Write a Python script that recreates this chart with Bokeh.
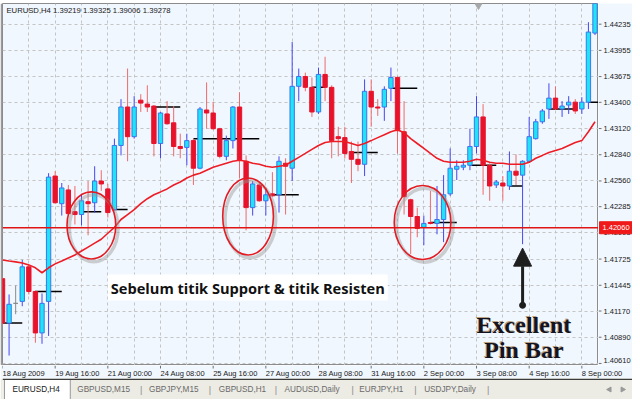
from bokeh.plotting import figure
from bokeh.models import Range1d, FixedTicker, Label, Span, Arrow, NormalHead
from bokeh.layouts import column, row
from bokeh.embed import file_html
from bokeh.resources import INLINE
from bokeh.core.properties import value

# ---------------- data ----------------
opens = [1.41516, 1.41041, 1.41252, 1.41273, 1.41642, 1.41379, 1.40936, 1.41273, 1.42612, 1.42317,
         1.42464, 1.42232, 1.42201, 1.42338, 1.42327, 1.42559, 1.42475, 1.42254, 1.42939, 1.43350,
         1.43033, 1.43423, 1.43381, 1.43360, 1.42960, 1.43276, 1.43181, 1.42928, 1.42918, 1.42991,
         1.42696, 1.43318, 1.43286, 1.43118, 1.42823, 1.42991, 1.43350, 1.42770, 1.42275, 1.42517,
         1.42348, 1.42422, 1.42412, 1.42749, 1.42696, 1.43571, 1.43676, 1.43560, 1.43297, 1.43698,
         1.43560, 1.43033, 1.43023, 1.42875, 1.42791, 1.42738, 1.43518, 1.43350, 1.43350, 1.43550,
         1.43666, 1.43086, 1.42359, 1.42180, 1.42064, 1.42116, 1.42106, 1.42148, 1.42422, 1.42685,
         1.42707, 1.42728, 1.42928, 1.43244, 1.42728, 1.42517, 1.42538, 1.42506, 1.42664, 1.42622,
         1.42770, 1.43012, 1.43192, 1.43329, 1.43445, 1.43329, 1.43371, 1.43402, 1.43329, 1.43402,
         1.44140]
highs = [1.41537, 1.41347, 1.41442, 1.41716, 1.41663, 1.41389, 1.41358, 1.42643, 1.42664, 1.42538,
         1.42517, 1.42506, 1.42422, 1.42559, 1.42717, 1.42675, 1.42528, 1.43012, 1.43434, 1.43761,
         1.43466, 1.43487, 1.43582, 1.43371, 1.43297, 1.43413, 1.43360, 1.43065, 1.43065, 1.43012,
         1.43350, 1.43613, 1.43402, 1.43128, 1.43044, 1.43360, 1.43508, 1.42833, 1.42559, 1.42538,
         1.42485, 1.42654, 1.42823, 1.42802, 1.44045, 1.43761, 1.43718, 1.43666, 1.43771, 1.43887,
         1.43582, 1.43139, 1.43139, 1.42981, 1.42981, 1.43645, 1.43645, 1.43434, 1.43571, 1.43771,
         1.43676, 1.43413, 1.42370, 1.42275, 1.42190, 1.42454, 1.42506, 1.42622, 1.42907, 1.42781,
         1.42781, 1.43118, 1.43466, 1.43381, 1.42749, 1.42570, 1.42612, 1.42875, 1.42844, 1.42781,
         1.43244, 1.43223, 1.43329, 1.43603, 1.43571, 1.43413, 1.43466, 1.43434, 1.43455, 1.44256,
         1.44593]
lows = [1.41010, 1.40694, 1.41136, 1.41221, 1.41347, 1.40831, 1.40820, 1.40904, 1.42317, 1.42190,
        1.42201, 1.42095, 1.42085, 1.41979, 1.42222, 1.42454, 1.42169, 1.42243, 1.42833, 1.42770,
        1.43012, 1.43297, 1.43297, 1.42823, 1.42802, 1.43160, 1.42823, 1.42802, 1.42728, 1.42517,
        1.42685, 1.43118, 1.43107, 1.42802, 1.42781, 1.42907, 1.42591, 1.42032, 1.42190, 1.42338,
        1.42190, 1.42391, 1.42222, 1.42201, 1.42559, 1.43413, 1.43518, 1.43244, 1.43276, 1.43413,
        1.42802, 1.42823, 1.42802, 1.42538, 1.42664, 1.42612, 1.43139, 1.43255, 1.43202, 1.43413,
        1.42854, 1.42201, 1.41779, 1.41958, 1.41874, 1.42095, 1.41990, 1.41906, 1.42401, 1.42570,
        1.42675, 1.42675, 1.42854, 1.42412, 1.42348, 1.42485, 1.42348, 1.42464, 1.42517, 1.41884,
        1.42759, 1.43002, 1.43171, 1.43223, 1.43318, 1.43244, 1.43276, 1.43276, 1.43276, 1.43329,
        1.44119]
closes = [1.41041, 1.41242, 1.41252, 1.41642, 1.41379, 1.40936, 1.41252, 1.42601, 1.42327, 1.42485,
          1.42211, 1.42201, 1.42348, 1.42317, 1.42559, 1.42528, 1.42222, 1.42939, 1.43350, 1.43033,
          1.43350, 1.43392, 1.43350, 1.42960, 1.43286, 1.43171, 1.42928, 1.42907, 1.42991, 1.42696,
          1.43329, 1.43286, 1.43118, 1.42823, 1.42991, 1.43350, 1.42781, 1.42275, 1.42528, 1.42348,
          1.42412, 1.42401, 1.42770, 1.42717, 1.43571, 1.43676, 1.43560, 1.43297, 1.43698, 1.43560,
          1.42991, 1.43012, 1.42854, 1.42791, 1.42738, 1.43518, 1.43350, 1.43339, 1.43539, 1.43666,
          1.43097, 1.42391, 1.42180, 1.42053, 1.42106, 1.42106, 1.42148, 1.42412, 1.42696, 1.42717,
          1.42728, 1.42928, 1.43244, 1.42728, 1.42506, 1.42549, 1.42506, 1.42664, 1.42622, 1.42770,
          1.43033, 1.43192, 1.43308, 1.43445, 1.43329, 1.43360, 1.43402, 1.43308, 1.43402, 1.44151,
          1.44541]
ma = [1.41716, 1.41705, 1.41695, 1.41684, 1.41663, 1.41632, 1.41579, 1.41632, 1.41674, 1.41705,
      1.41737, 1.41769, 1.41811, 1.41853, 1.41895, 1.41937, 1.42001, 1.42064, 1.42148, 1.42201,
      1.42254, 1.42317, 1.42370, 1.42412, 1.42443, 1.42475, 1.42517, 1.42549, 1.42591, 1.42622,
      1.42643, 1.42675, 1.42707, 1.42728, 1.42749, 1.42770, 1.42781, 1.42770, 1.42749, 1.42738,
      1.42717, 1.42707, 1.42717, 1.42728, 1.42770, 1.42812, 1.42854, 1.42897, 1.42939, 1.42970,
      1.42981, 1.42981, 1.42981, 1.42960, 1.42939, 1.42960, 1.42991, 1.43023, 1.43054, 1.43086,
      1.43107, 1.43076, 1.43012, 1.42960, 1.42907, 1.42854, 1.42802, 1.42770, 1.42759, 1.42759,
      1.42759, 1.42770, 1.42791, 1.42781, 1.42759, 1.42749, 1.42749, 1.42738, 1.42738, 1.42738,
      1.42759, 1.42802, 1.42833, 1.42865, 1.42886, 1.42907, 1.42939, 1.42970, 1.42991, 1.43086,
      1.43192]

# short black level lines (bar index start/end, price)
lvl_start = [0, 5, 12, 17, 23, 29, 41, 47, 53, 59, 65, 71, 77, 83, 89]
lvl_end = [3, 9, 15, 19, 27, 39, 45, 49, 57, 63, 69, 75, 79, 87, 90.5]
lvl_price = [1.41041, 1.41379, 1.42232, 1.42254, 1.43350, 1.43012, 1.42412, 1.43560, 1.42865,
             1.43550, 1.42116, 1.42728, 1.42506, 1.43329, 1.43402]

support_price = 1.42060
pin_bar_index = 79

x_ticks = [0, 8, 16, 24, 32, 40, 48, 56, 64, 72, 80, 88]
x_tick_labels = ["18 Aug 2009", "19 Aug 16:00", "21 Aug 00:00", "24 Aug 08:00", "25 Aug 16:00",
                 "27 Aug 00:00", "28 Aug 08:00", "31 Aug 16:00", "2 Sep 00:00", "3 Sep 08:00",
                 "4 Sep 16:00", "8 Sep 00:00"]
x_grid = list(range(0, 90, 4))
y_ticks = [1.44235, 1.43955, 1.43675, 1.43400, 1.43120, 1.42840, 1.42560, 1.42285, 1.42005,
           1.41725, 1.41445, 1.41170, 1.40890, 1.40610]

# circled zones (center bar, center price, width in bars, height in price)
ell_x = [13.5, 37.3, 63.8]
ell_y = [1.42085, 1.42180, 1.42116]
ell_w = [7.4, 7.7, 8.6]
ell_h = [0.00717, 0.00822, 0.00790]

tabs = ["EURUSD,H4", "GBPUSD,M15", "GBPJPY,M15", "GBPUSD,H1", "AUDUSD,Daily", "EURJPY,H1", "USDJPY,Daily"]
tab_x = [10, 75, 147, 217, 283, 358, 423]
sep_x = [138, 207, 273, 350, 413, 486]

# ---------------- sizes ----------------
BG = "#f0f7fe"
FW, FH = 596, 362          # chart frame
AXW = 34                   # right price-axis strip
TOTAL_W = 2 + FW + AXW
FONT = "Liberation Sans"

n = len(opens)
idx = list(range(n))
X0, X1 = 0, 90.53
Y0, Y1 = 1.40588, 1.44456
xr = Range1d(X0, X1)
yr = Range1d(Y0, Y1)

# ---------------- chart ----------------
p = figure(width=2 + FW, height=FH, x_range=xr, y_range=yr,
           x_axis_location=None, y_axis_location=None,
           toolbar_location=None, output_backend="svg",
           min_border_left=2, min_border_right=0, min_border_top=0, min_border_bottom=0,
           background_fill_color=BG, border_fill_color="#9a9a9a", outline_line_color="#8c8c8c")
p.xgrid.ticker = FixedTicker(ticks=x_grid)
p.ygrid.ticker = FixedTicker(ticks=y_ticks)
for g in (p.xgrid, p.ygrid):
    g.grid_line_color = "#c4c4c4"
    g.grid_line_dash = "3 3"

# level lines
p.segment(x0=lvl_start, y0=lvl_price, x1=lvl_end, y1=lvl_price, line_color="#000000", line_width=1.5)

# candles
bull_wick, bear_wick, doji_col = "#4646f0", "#f06a6a", "#8a8a8a"
wick_col, fill_col, line_col = [], [], []
for o, c in zip(opens, closes):
    if c > o:
        wick_col.append(bull_wick); fill_col.append("#1ee4f5"); line_col.append("#3c74ee")
    elif c < o:
        wick_col.append(bear_wick); fill_col.append("#e8132b"); line_col.append("#e8132b")
    else:
        wick_col.append(doji_col); fill_col.append(doji_col); line_col.append(doji_col)
p.segment(x0=idx, y0=highs, x1=idx, y1=lows, line_color=wick_col, line_width=1)
tops = [max(o, c) for o, c in zip(opens, closes)]
bots = [min(o, c) for o, c in zip(opens, closes)]
p.vbar(x=idx, width=0.66, top=tops, bottom=bots, fill_color=fill_col, line_color=line_col, line_width=1)

# moving average
p.line(x=idx, y=ma, line_color="#ee1c24", line_width=1.6)

# support line
p.add_layout(Span(location=support_price, dimension="width", line_color="#e01414", line_width=1.5))

# circles with shadow
p.ellipse(x=[v + 0.35 for v in ell_x], y=[v - 0.00030 for v in ell_y], width=ell_w, height=ell_h,
          fill_color=None, line_color="#9a9a9a", line_alpha=0.45, line_width=3.5)
p.ellipse(x=ell_x, y=ell_y, width=ell_w, height=ell_h, fill_color=None,
          line_color="#e31b23", line_width=1.6)

# shift marker at top
p.scatter(x=[72.3], y=[1.44435], marker="inverted_triangle", size=7, color="#a8a8a8")

# title
p.add_layout(Label(x=0.6, y=1.44383, text="EURUSD,H4  1.39219 1.39325 1.39006 1.39278",
                   text_font=FONT, text_font_size="7.7px", text_color="#202020",
                   text_baseline="middle"))

# annotation text
p.add_layout(Label(x=16.0, y=1.41421, text="Sebelum titik Support & titik Resisten",
                   text_font="Open Sans", text_font_style="bold", text_font_size="14.6px",
                   text_color="#111111", text_baseline="middle", background_fill_color="white",
                   padding=3))

# arrow to pin bar
p.add_layout(Arrow(end=NormalHead(size=18, fill_color="#1e1e1e", line_color="#1e1e1e"),
                   x_start=pin_bar_index, y_start=1.41231, x_end=pin_bar_index, y_end=1.41842,
                   line_color="#1e1e1e", line_width=3))
p.scatter(x=[pin_bar_index], y=[1.41231], size=6, color="#1e1e1e")

for txt, yy in (("Excellent", 1.41020), ("Pin Bar", 1.40755)):
    p.add_layout(Label(x=79.2, y=yy, x_offset=-1, y_offset=1, text=txt, text_font="Liberation Serif",
                       text_font_style="bold", text_font_size="24px", text_color="#9a6a30",
                       text_alpha=0.6, text_align="center", text_baseline="alphabetic"))
    p.add_layout(Label(x=79.2, y=yy, text=txt, text_font="Liberation Serif",
                       text_font_style="bold", text_font_size="24px", text_color="#141420",
                       text_align="center", text_baseline="alphabetic"))

# ---------------- right price axis strip (shares the price scale) ----------------
ax = figure(width=AXW, height=FH, x_range=Range1d(0, AXW), y_range=yr,
            x_axis_location=None, y_axis_location=None, toolbar_location=None,
            output_backend="svg", min_border=0, background_fill_color=BG,
            border_fill_color=BG, outline_line_color=None)
ax.grid.visible = False
ax.segment(x0=[0] * len(y_ticks), y0=y_ticks, x1=[3] * len(y_ticks), y1=y_ticks,
           line_color="#707070", line_width=1)
ax.text(x=[5] * len(y_ticks), y=y_ticks, text=["%.5f" % v for v in y_ticks],
        y_offset=[0] * (len(y_ticks) - 1) + [-3],
        text_font=value(FONT), text_font_size="7.5px", text_color="#202020", text_baseline="middle")
tag_half = (Y1 - Y0) * 6.0 / FH
ax.quad(left=[1], right=[AXW], bottom=[support_price - tag_half], top=[support_price + tag_half],
        fill_color="#f01818", line_color="#f01818")
ax.text(x=[4], y=[support_price], text=["%.5f" % support_price], text_font=value(FONT),
        text_font_size="7.5px", text_color="white", text_baseline="middle")

# ---------------- time axis strip (same time scale, extends under price strip) ----------------
LH = 13
lab = figure(width=TOTAL_W, height=LH, x_range=Range1d(X0, X1 * (FW + AXW) / FW),
             y_range=Range1d(0, LH), x_axis_location=None, y_axis_location=None,
             toolbar_location=None, output_backend="svg", min_border_left=2, min_border_right=0,
             min_border_top=0, min_border_bottom=0, background_fill_color=BG,
             border_fill_color=BG, outline_line_color=None)
lab.grid.visible = False
lab.segment(x0=x_ticks, y0=[LH] * len(x_ticks), x1=x_ticks, y1=[LH - 3] * len(x_ticks),
            line_color="#707070", line_width=1)
lab.text(x=x_ticks, y=[LH - 3.5] * len(x_ticks), text=x_tick_labels, text_font=value(FONT),
         text_font_size="7.5px", text_color="#202020", text_baseline="top", text_align="left")

# ---------------- top strip ----------------
top = figure(width=TOTAL_W, height=3, x_range=Range1d(0, 1), y_range=Range1d(0, 1),
             toolbar_location=None, output_backend="svg", x_axis_type=None, y_axis_type=None,
             min_border=0, background_fill_color="#a6a6a6", border_fill_color="#a6a6a6",
             outline_line_color=None)
top.grid.visible = False

# ---------------- tab bar ----------------
TB = "#ecebe4"
tb = figure(width=TOTAL_W, height=21, x_range=Range1d(0, TOTAL_W), y_range=Range1d(0, 21),
            toolbar_location=None, output_backend="svg", x_axis_type=None, y_axis_type=None,
            min_border=0, background_fill_color=TB, border_fill_color=TB, outline_line_color=None)
tb.grid.visible = False
tb.quad(left=[2], right=[68], bottom=[-1], top=[20], fill_color="white", line_color="#9a9a9a")
tb.segment(x0=[0], y0=[20.2], x1=[TOTAL_W], y1=[20.2], line_color="#3c3c3c", line_width=1.6)
tb.text(x=tab_x, y=[10] * len(tabs), text=tabs, text_font=value(FONT),
        text_font_size="8.2px", text_baseline="middle",
        text_color=["#202020"] + ["#6a6a6a"] * (len(tabs) - 1))
tb.text(x=sep_x, y=[10] * len(sep_x), text=["|"] * len(sep_x), text_font=value(FONT),
        text_font_size="9px", text_baseline="middle", text_color="#8a8a8a")
tb.scatter(x=[609, 622], y=[10, 10], marker="triangle", angle=[1.5708, -1.5708], size=5,
           color="#9a9a9a")

layout = column(top, row(p, ax, spacing=0), lab, tb, spacing=0)
open("out.html", "w").write(file_html(layout, INLINE))
